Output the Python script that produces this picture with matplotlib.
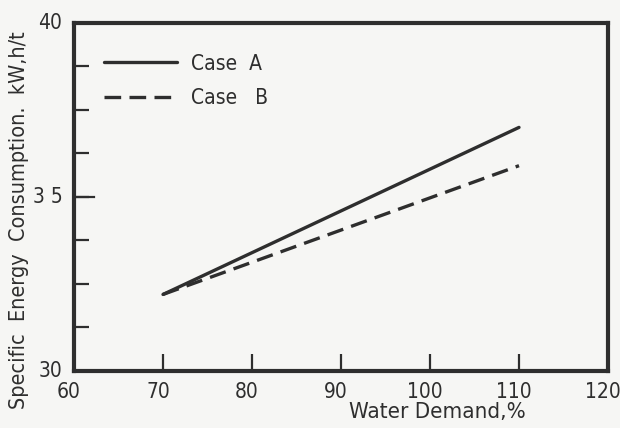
import matplotlib.pyplot as plt
from matplotlib.ticker import MultipleLocator
from matplotlib.transforms import ScaledTranslation

# values
demand = [70, 110]
case_a = [32.2, 37.0]
case_b = [32.2, 35.9]
x_ticks = [60, 70, 80, 90, 100, 110, 120]
y_labels = {30: '30', 35: '3 5', 40: '40'}

ink = '#2e2e2e'
paper = '#f6f6f4'
plt.rcParams['font.family'] = ['DejaVu Sans']
plt.rcParams['font.stretch'] = 'condensed'

fig = plt.figure(figsize=(6.2, 4.28), dpi=100, facecolor=paper)
ax = fig.add_axes([74 / 620, 1 - 371 / 428, 534 / 620, 348 / 428])
ax.set_facecolor(paper)

ax.plot(demand, case_a, color=ink, lw=2.4, solid_capstyle='round', label='Case  A')
ax.plot(demand, case_b, color=ink, lw=2.4, dashes=(5, 2.5), label='Case   B')

ax.set_xlim(60, 120)
ax.set_ylim(30, 40)
for s in ax.spines.values():
    s.set_linewidth(3)
    s.set_color(ink)

# x ticks: inward marks, labels below (nudged left a little like the scan)
ax.set_xticks(x_ticks)
ax.set_xticklabels([str(v) for v in x_ticks], fontsize=15, color=ink)
ax.tick_params(axis='x', direction='in', length=12, width=1.6, color=ink, pad=8)
shift = ScaledTranslation(-5 / 100, 0, fig.dpi_scale_trans)
for lab in ax.get_xticklabels():
    lab.set_transform(lab.get_transform() + shift)

# y ticks every 1.25, labels only at 30, 35, 40
ax.yaxis.set_major_locator(MultipleLocator(1.25))
ax.set_yticklabels([])
ax.tick_params(axis='y', direction='in', length=11, width=1.6, color=ink)
ax.plot([60, 62.3], [35, 35], color=ink, lw=1.6, clip_on=False)  # longer mark at 35
for v, t in y_labels.items():
    ax.text(-0.022, v, t, transform=ax.get_yaxis_transform(),
            ha='right', va='center', fontsize=15, color=ink)

ax.set_xlabel('Water Demand,%', fontsize=16, color=ink, x=0.68, labelpad=0)
fig.text(0.031, 0.486, 'Specific  Energy  Consumption.  kW,h/t', rotation=90,
         ha='center', va='center', fontsize=15.5, color=ink)

ax.legend(loc='upper left', bbox_to_anchor=(0.021, 0.966), frameon=False,
          fontsize=15, handlelength=3.5, labelspacing=0.7, handletextpad=0.7,
          labelcolor=ink)

fig.savefig('out.png', dpi=100, facecolor=paper)
